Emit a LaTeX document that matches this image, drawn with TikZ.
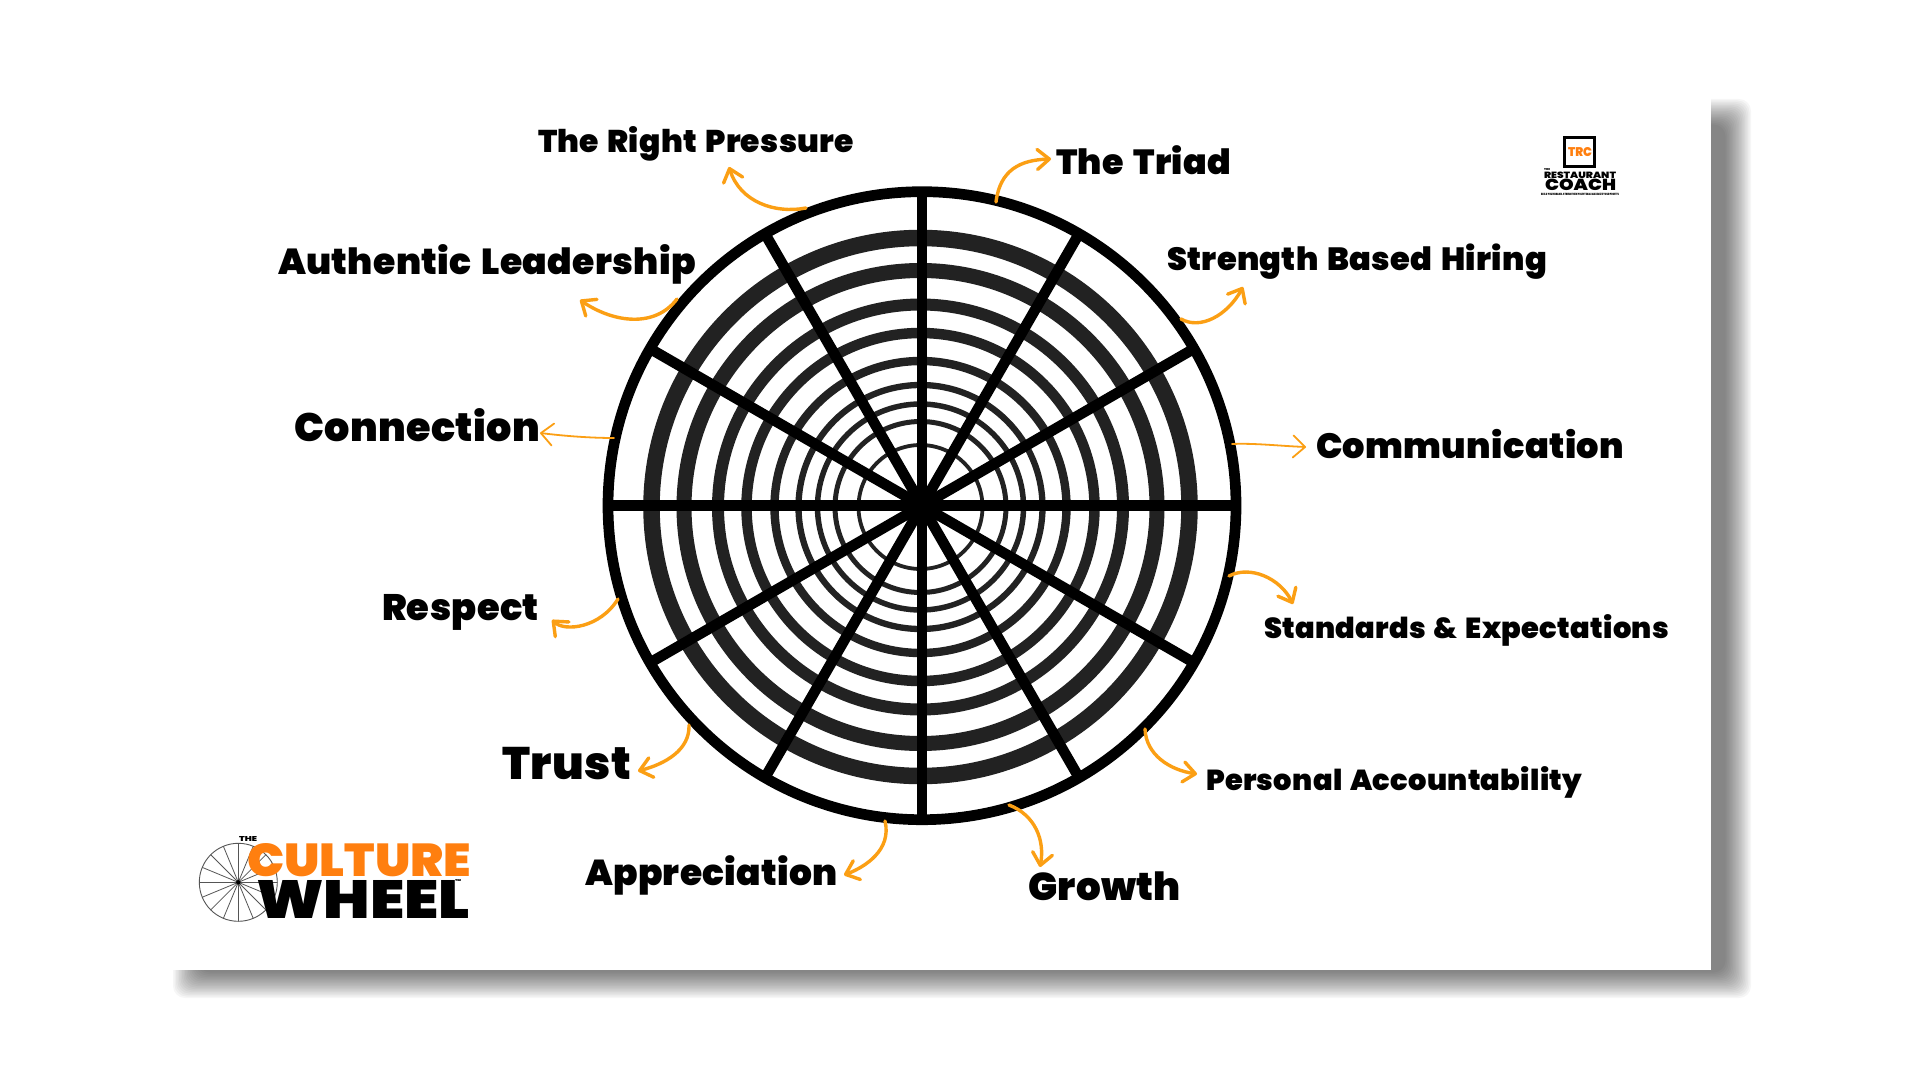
\documentclass[tikz,border=0pt]{standalone}
\usepackage{graphicx}
\usepackage{fontspec}
\usetikzlibrary{arrows.meta}
\newfontfamily\heavy{Poppins}[UprightFont=* Black,BoldFont=* Black,WordSpace=1.5,LetterSpace=1]
\newfontfamily\heavylogo{Poppins}[UprightFont=* Black,BoldFont=* Black]
\newdimen\pxu \pxu=0.5pt
\definecolor{ringc}{HTML}{222222}
\definecolor{arrowc}{HTML}{FB9F14}
\definecolor{logoc}{HTML}{FF7F0F}
\definecolor{logospoke}{HTML}{555555}
\tikzset{
  rim/.style={circle,draw=black,line width=5.35pt,inner sep=0pt,outer sep=0pt,minimum size=314pt},
  spoke/.style={draw=black,line width=5.3pt},
  ringline/.style={draw=ringc},
  arrowline/.style={draw=arrowc,line width=1.7pt,line cap=round,-{Straight Barb[length=6pt,width=10pt,line width=1.7pt,round]}},
  thinarrow/.style={draw=arrowc,line width=0.9pt,line cap=round,-{Straight Barb[length=6pt,width=11pt,line width=0.9pt,round]}},
  lab/.style={anchor=base west,inner sep=0pt,outer sep=0pt,text=black,font=\heavy},
  logotext/.style={anchor=north west,inner sep=0pt,outer sep=0pt,font=\heavylogo}
}
\begin{document}
\begin{tikzpicture}[x=0.5pt,y=-0.5pt]
\useasboundingbox (0,0) rectangle (1920,1080);
% drop shadow, built from stacked translucent layers
\foreach \d in {13,11.5,...,-13}{
  \fill[black,fill opacity=0.036,rounded corners=6pt] (186-\d,112-\d) rectangle (1738+\d,985+\d);
}
\fill[white] (160,85) rectangle (1711,970);
% wheel
\coordinate (hub) at (922,505.7);
\coordinate (ringhub) at (920.5,507);
\foreach \r/\w in {269/16.5,236.5/15,202.5/12,174/10.5,146/8.4,122/6.3,103/5.5,85.5/5,62/3.8}{
  \draw[ringline,line width=\w\pxu] (ringhub) circle[radius=\r];
}
\node[rim] (wheel) at (hub) {};
\foreach \a in {0,30,...,150}{
  \draw[spoke] (wheel.\a) -- (wheel.\the\numexpr\a+180\relax);
}
% labels
\node[lab] (pressure) at (538,152.5) {\resizebox{316\pxu}{!}{The Right Pressure}};
\node[lab] (triad) at (1056,174.5) {\resizebox{175\pxu}{!}{The Triad}};
\node[lab] (authentic) at (278,274.5) {\resizebox{418\pxu}{!}{Authentic Leadership}};
\node[lab] (hiring) at (1167,270.5) {\resizebox{380\pxu}{!}{Strength Based Hiring}};
\node[lab] (connection) at (294,441) {\resizebox{246\pxu}{!}{Connection}};
\node[lab] (communication) at (1316,458) {\resizebox{308\pxu}{!}{Communication}};
\node[lab] (respect) at (382,620) {\resizebox{157\pxu}{!}{Respect}};
\node[lab] (standards) at (1264,638.5) {\resizebox{405\pxu}{!}{Standards \& Expectations}};
\node[lab] (trust) at (502,779) {\resizebox{129\pxu}{!}{Trust}};
\node[lab] (accountability) at (1206,790.5) {\resizebox{376\pxu}{!}{Personal Accountability}};
\node[lab] (appreciation) at (585,885) {\resizebox{253\pxu}{!}{Appreciation}};
\node[lab] (growth) at (1028,900) {\resizebox{153\pxu}{!}{Growth}};
% connector ends
\coordinate (s1) at (806,208);  \coordinate (e1) at (729,167);
\coordinate (s2) at (677,299);  \coordinate (e2) at (580,300);
\coordinate (s3) at (996,202);  \coordinate (e3) at (1051,159);
\coordinate (s4) at (1181,319); \coordinate (e4) at (1243,287);
\coordinate (s5) at (614,438);  \coordinate (e5) at (540,433);
\coordinate (s6) at (1232,444); \coordinate (e6) at (1306,447);
\coordinate (s7) at (618,599);  \coordinate (e7) at (552,620);
\coordinate (s8) at (1229,576); \coordinate (e8) at (1293,604);
\coordinate (s9) at (689,725);  \coordinate (e9) at (638,771);
\coordinate (s10) at (885,821); \coordinate (e10) at (844,875);
\coordinate (s11) at (1145,729);\coordinate (e11) at (1197,774);
\coordinate (s12) at (1009,805);\coordinate (e12) at (1040,867);
\draw[arrowline] (s1) .. controls (775,214) and (740,202) .. (e1);
\draw[arrowline] (s2) .. controls (655,328) and (614,323) .. (e2);
\draw[arrowline] (s3) .. controls (1000,170) and (1020,160) .. (e3);
\draw[arrowline] (s4) .. controls (1200,330) and (1227,316) .. (e4);
\draw[thinarrow] (s5) .. controls (590,438) and (565,436) .. (e5);
\draw[thinarrow] (s6) .. controls (1255,443) and (1280,446) .. (e6);
\draw[arrowline] (s7) .. controls (600,628) and (565,632) .. (e7);
\draw[arrowline] (s8) .. controls (1250,565) and (1280,578) .. (e8);
\draw[arrowline] (s9) .. controls (690,750) and (665,764) .. (e9);
\draw[arrowline] (s10) .. controls (892,850) and (865,867) .. (e10);
\draw[arrowline] (s11) .. controls (1146,755) and (1170,770) .. (e11);
\draw[arrowline] (s12) .. controls (1035,815) and (1045,840) .. (e12);
% Culture Wheel logo
\coordinate (lw) at (238.3,882.3);
\draw[logospoke,line width=0.45pt] (lw) circle[radius=39];
\foreach \a in {0,22.5,...,337.5}{
  \draw[logospoke,line width=0.4pt] (lw) -- ++(\a:39);
}
\fill[black] (lw) circle[radius=2.2];
\node[logotext,text=black] (lthe) at (239,836) {\resizebox{18\pxu}{5\pxu}{THE}};
\node[logotext,text=logoc] (lculture) at (247,843.5) {\resizebox{224\pxu}{33\pxu}{CULTURE}};
\node[logotext,text=black] (lwheel) at (256,880) {\resizebox{214\pxu}{38\pxu}{WHEEL}};
\node[logotext,text=black] (ltm) at (455,879) {\resizebox{6\pxu}{2\pxu}{TM}};
% Restaurant Coach logo
\draw[black,line width=1.7pt] (1564.5,137.5) rectangle (1594.5,166.5);
\node[logotext,text=logoc] (trc) at (1568,148) {\resizebox{24\pxu}{9\pxu}{TRC}};
\node[logotext,text=black] (rthe) at (1544,169) {\resizebox{6\pxu}{2\pxu}{THE}};
\node[logotext,text=black] (rrest) at (1544,172) {\resizebox{72\pxu}{6.5\pxu}{RESTAURANT}};
\node[logotext,text=black] (rcoach) at (1545,179.5) {\resizebox{71\pxu}{11.5\pxu}{COACH}};
\node[logotext,text=black] (rtag) at (1541,193) {\resizebox{78\pxu}{2.2\pxu}{BUILD YOUR BRAND. STRENGTHEN YOUR TEAM. MAXIMIZE YOUR PROFITS}};
\end{tikzpicture}
\end{document}
